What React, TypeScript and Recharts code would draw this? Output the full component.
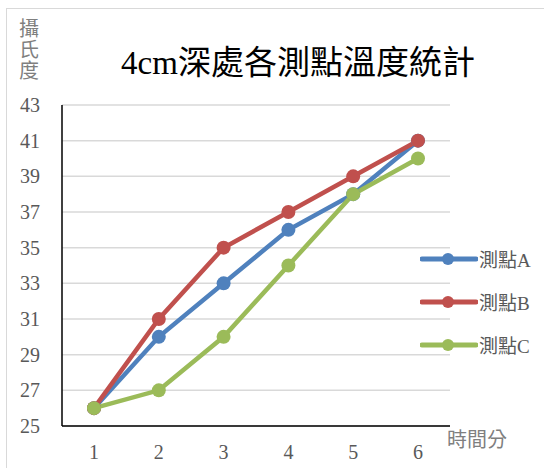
import { LineChart, Line, XAxis, YAxis, CartesianGrid } from "recharts";

const times = [1, 2, 3, 4, 5, 6];
const pointA = [26, 30, 33, 36, 38, 41];
const pointB = [26, 31, 35, 37, 39, 41];
const pointC = [26, 27, 30, 34, 38, 40];
const yTicks = [25, 27, 29, 31, 33, 35, 37, 39, 41, 43];

const series = [
  { key: "a", name: "測點A", color: "#4F81BD" },
  { key: "b", name: "測點B", color: "#C0504D" },
  { key: "c", name: "測點C", color: "#9BBB59" },
];

const data = times.map((t, i) => ({ t, a: pointA[i], b: pointB[i], c: pointC[i] }));

const font = '"Liberation Serif", "Noto Sans CJK TC", serif';
const tick = { fill: "#595959", fontSize: 20, fontFamily: font };

function LegendBox() {
  return (
    <div style={{ position: "absolute", left: 420, top: 237 }}>
      {series.map((s) => (
        <div key={s.key} style={{ display: "flex", alignItems: "center", height: 43 }}>
          <svg width={58} height={16}>
            <line x1={2} y1={8} x2={56} y2={8} stroke={s.color} strokeWidth={5} strokeLinecap="round" />
            <circle cx={28} cy={8} r={6} fill={s.color} />
          </svg>
          <span style={{ color: "#595959", fontSize: 19, fontFamily: font, marginLeft: 1 }}>{s.name}</span>
        </div>
      ))}
    </div>
  );
}

export default function App() {
  return (
    <div style={{ position: "absolute", left: 0, top: 0, width: 544, height: 468, background: "#fff", overflow: "hidden" }}>
      <div style={{ position: "absolute", left: 6, top: 8, width: 560, height: 480, border: "1px solid #d9d9d9" }} />
      <LineChart width={544} height={468} data={data} margin={{ top: 105, right: 94, left: 0, bottom: 0 }}>
        <CartesianGrid stroke="#d9d9d9" strokeWidth={1.5} vertical={false} />
        <XAxis
          dataKey="t"
          height={42}
          padding={{ left: 32, right: 32 }}
          tick={tick}
          tickLine={false}
          tickSize={0}
          tickMargin={19}
          axisLine={{ stroke: "#000", strokeWidth: 1.5 }}
        />
        <YAxis
          width={62}
          domain={[25, 43]}
          ticks={yTicks}
          tick={tick}
          tickLine={false}
          tickSize={0}
          tickMargin={22}
          axisLine={{ stroke: "#000", strokeWidth: 1.5 }}
        />
        {series.map((s) => (
          <Line
            key={s.key}
            dataKey={s.key}
            name={s.name}
            stroke={s.color}
            strokeWidth={4.5}
            dot={{ r: 7, fill: s.color, stroke: s.color, strokeWidth: 0 }}
            activeDot={false}
            isAnimationActive={false}
          />
        ))}
      </LineChart>
      <LegendBox />
      <div
        style={{
          position: "absolute",
          left: 0,
          width: 596,
          top: 36,
          textAlign: "center",
          fontSize: 33,
          fontFamily: font,
          color: "#000",
        }}
      >
        4cm深處各測點溫度統計
      </div>
      {["攝", "氏", "度"].map((ch, i) => (
        <div
          key={ch}
          style={{
            position: "absolute",
            left: 19,
            top: 19 + i * 21,
            fontSize: 20,
            lineHeight: "21px",
            fontFamily: font,
            color: "#7f7f7f",
          }}
        >
          {ch}
        </div>
      ))}
      <div
        style={{
          position: "absolute",
          left: 447,
          top: 424,
          fontSize: 20,
          fontFamily: font,
          color: "#7f7f7f",
        }}
      >
        時間分
      </div>
    </div>
  );
}
